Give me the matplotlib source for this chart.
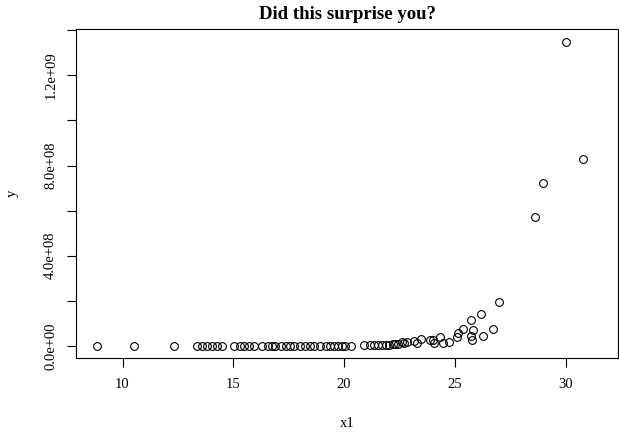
"""Scatter of y against x1, R base-graphics look."""

import matplotlib
matplotlib.use("Agg")
import matplotlib.pyplot as plt

plt.rcParams["font.family"] = ["Liberation Serif", "DejaVu Serif"]

# points that sit on the floor (y close to zero)
x_flat = [8.85, 10.52, 12.33, 13.36, 13.59, 13.81, 14.04, 14.27, 14.49,
          15.03, 15.30, 15.49, 15.71, 15.94, 16.30, 16.57, 16.75, 16.88,
          17.16, 17.38, 17.56, 17.74, 18.01, 18.24, 18.47, 18.65, 18.92,
          19.19, 19.37, 19.55, 19.73, 19.91, 20.05, 20.32, 20.90, 21.17,
          21.35, 21.53, 21.72, 21.90]
y_flat = [1e3, 2e3, 5e3, 1e4, 1e4, 1.2e4, 1.5e4, 2e4, 2e4,
          3e4, 4e4, 4e4, 5e4, 6e4, 8e4, 1e5, 1.1e5, 1.2e5,
          1.5e5, 1.8e5, 2e5, 2.2e5, 2.6e5, 3e5, 3.5e5, 4e5, 5e5,
          6e5, 7e5, 8e5, 9e5, 1e6, 1.1e6, 1.3e6, 1.8e6, 2.1e6,
          2.4e6, 2.8e6, 3.2e6, 3.6e6]

# points on the rising part
x_rise = [22.05, 22.20, 22.30, 22.45, 22.60, 22.70, 22.83, 23.16, 23.30,
          23.46, 23.90, 24.00, 24.07, 24.34, 24.47, 24.75, 25.09, 25.16,
          25.36, 25.73, 25.81, 25.73, 25.79, 26.17, 26.29, 26.74, 27.01,
          28.62, 28.97, 30.02, 30.77]
y_rise = [5e6, 8e6, 6e6, 1.0e7, 1.9e7, 1.2e7, 1.5e7, 2.2e7, 1.2e7,
          3.0e7, 2.7e7, 2.5e7, 1.3e7, 4.1e7, 1.3e7, 1.9e7, 4.1e7, 5.6e7,
          7.4e7, 1.15e8, 7.1e7, 4.4e7, 2.7e7, 1.41e8, 4.4e7, 7.4e7, 1.96e8,
          5.73e8, 7.21e8, 1.35e9, 8.28e8]

x_ticks = [10, 15, 20, 25, 30]
y_ticks = [0, 2e8, 4e8, 6e8, 8e8, 1.0e9, 1.2e9, 1.4e9]
y_tick_labels = ["0.0e+00", "", "4.0e+08", "", "8.0e+08", "", "1.2e+09", ""]

fig = plt.figure(figsize=(6.19, 4.32), dpi=100)
ax = fig.add_axes([76 / 619, 1 - 358 / 432, 542 / 619, 329 / 432])

ax.plot(x_flat + x_rise, y_flat + y_rise, linestyle="none", marker="o",
        markersize=5.6, markerfacecolor="none", markeredgecolor="black",
        markeredgewidth=0.8)

ax.set_xlim(7.90, 32.37)
ax.set_ylim(-5.4e7, 1.406e9)
ax.set_xticks(x_ticks)
ax.set_xticklabels([str(v) for v in x_ticks])
ax.set_yticks(y_ticks)
ax.set_yticklabels(y_tick_labels, rotation=90, va="center")

for s in ax.spines.values():
    s.set_linewidth(0.8)
ax.tick_params(direction="out", length=6.5, width=0.8, labelsize=10.5, pad=8)
ax.tick_params(axis="y", pad=7)

ax.set_title("Did this surprise you?", fontsize=13.5, fontweight="bold", pad=7.5)
ax.set_xlabel("x1", fontsize=10.5, labelpad=18.5)
ax.set_ylabel("y", fontsize=10.5, labelpad=18.5)

fig.savefig("out.png", dpi=100)
